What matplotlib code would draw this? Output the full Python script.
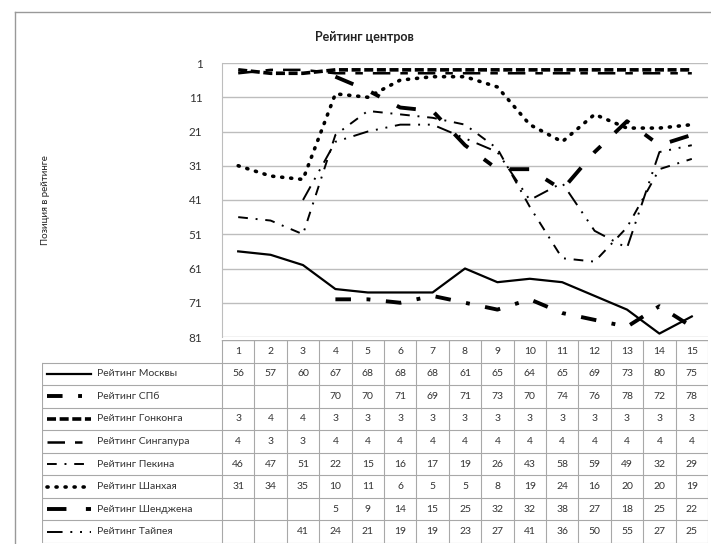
import numpy as np
import matplotlib
matplotlib.use("Agg")
from matplotlib import pyplot as plt
from matplotlib.lines import Line2D

plt.rcParams['font.family'] = ['Lato', 'DejaVu Sans']

# данные
x = list(range(1, 16))
nan = np.nan
moscow = [56, 57, 60, 67, 68, 68, 68, 61, 65, 64, 65, 69, 73, 80, 75]
spb = [nan, nan, nan, 70, 70, 71, 69, 71, 73, 70, 74, 76, 78, 72, 78]
hongkong = [3, 4, 4, 3, 3, 3, 3, 3, 3, 3, 3, 3, 3, 3, 3]
singapore = [4, 3, 3, 4, 4, 4, 4, 4, 4, 4, 4, 4, 4, 4, 4]
beijing = [46, 47, 51, 22, 15, 16, 17, 19, 26, 43, 58, 59, 49, 32, 29]
shanghai = [31, 34, 35, 10, 11, 6, 5, 5, 8, 19, 24, 16, 20, 20, 19]
shenzhen = [nan, nan, nan, 5, 9, 14, 15, 25, 32, 32, 38, 27, 18, 25, 22]
taipei = [nan, nan, 41, 24, 21, 19, 19, 23, 27, 41, 36, 50, 55, 27, 25]

labels = ['Рейтинг Москвы', 'Рейтинг СПб', 'Рейтинг Гонконга', 'Рейтинг Сингапура',
          'Рейтинг Пекина', 'Рейтинг Шанхая', 'Рейтинг Шенджена', 'Рейтинг Тайпея']
series = [moscow, spb, hongkong, singapore, beijing, shanghai, shenzhen, taipei]

# стиль линий (как в Excel)
styles = [
    dict(ls='-', lw=1.6),
    dict(ls=(0, (4, 4, 1, 4)), lw=2.8),
    dict(ls=(0, (2.5, 1)), lw=2.6),
    dict(ls=(0, (7, 4, 3, 4)), lw=1.8),
    dict(ls=(0, (5, 4, 1, 4)), lw=1.4),
    dict(ls=(0, (0.3, 2.2)), lw=2.6, dash_capstyle='round'),
    dict(ls=(0, (5, 5, 2.5, 5)), lw=2.8),
    dict(ls=(0, (8, 4, 1, 4, 1, 4)), lw=1.4),
]

W, H = 711, 544
fig = plt.figure(figsize=(W / 100, H / 100), dpi=100)

def px(x0, y0, x1, y1):
    return [x0 / W, 1 - y1 / H, (x1 - x0) / W, (y1 - y0) / H]

# основной график
ax = fig.add_axes(px(222, 63, 708, 337))
for s, st in zip(series, styles):
    ax.plot(x, s, color='black', **st)
ax.set_xlim(0.5, 15.5)
ax.set_ylim(81, 1)
ax.set_yticks(range(1, 82, 10))
ax.set_xticks([])
ax.tick_params(axis='y', length=0, pad=14, labelsize=8.5, colors='#333333')
ax.yaxis.grid(True, color='#bdbdbd', lw=1)
ax.set_axisbelow(True)
for k in ['top', 'right', 'bottom']:
    ax.spines[k].set_visible(False)
ax.spines['left'].set_color('#bdbdbd')

# таблица данных
colw = (708 - 222) / 15
x_left = 0.5 - (222 - 42) / colw
at = fig.add_axes(px(42, 340, 708, 543))
at.set_xlim(x_left, 15.5)
at.set_ylim(8.5, -0.5)
at.axis('off')
gc = '#a8a8a8'
# горизонтальные линии
at.plot([0.5, 15.5], [-0.5, -0.5], color=gc, lw=1)
for r in range(9):
    at.plot([x_left, 15.5], [r + 0.5, r + 0.5], color=gc, lw=0.8)
# вертикальные линии
at.plot([x_left, x_left], [0.5, 8.5], color=gc, lw=0.8)
for c in range(16):
    at.plot([c + 0.5, c + 0.5], [-0.5, 8.5], color=gc, lw=0.8)
for c in x:
    at.text(c, 0, str(c), ha='center', va='center', fontsize=7.5, color='#333333')
for r, (lab, s, st) in enumerate(zip(labels, series, styles), start=1):
    at.plot([x_left + 0.15, x_left + 1.5], [r, r], color='black', **st)
    at.text(x_left + 1.7, r, lab, ha='left', va='center', fontsize=7.5, color='#333333')
    for c, v in zip(x, s):
        if not np.isnan(v):
            at.text(c, r, str(int(v)), ha='center', va='center', fontsize=7.5, color='#333333')

fig.text(364 / W, 1 - 37 / H, 'Рейтинг центров', ha='center', va='center',
         fontsize=9, fontweight='bold', color='#222222')
fig.text(45 / W, 1 - 200 / H, 'Позиция в рейтинге', ha='center', va='center',
         rotation=90, fontsize=7, color='#222222')

# рамка диаграммы
fig.add_artist(Line2D([15 / W, 15 / W], [0, 1 - 12 / H], color='#999999', lw=1))
fig.add_artist(Line2D([15 / W, 1], [1 - 12 / H, 1 - 12 / H], color='#999999', lw=1))

fig.savefig('out.png', dpi=100)
